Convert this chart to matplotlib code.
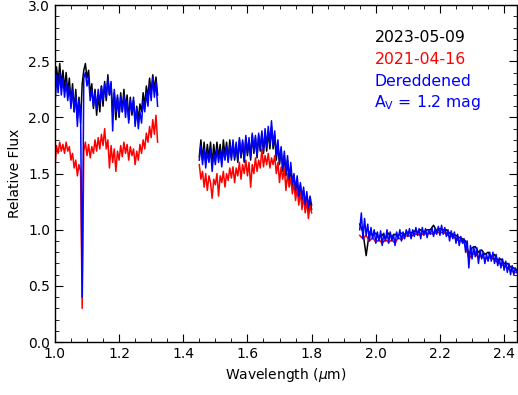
"""
Near-IR spectra of the source at two epochs, plus the dereddened 2021 spectrum.
"""

import numpy as np
import matplotlib
matplotlib.use("Agg")
import matplotlib.pyplot as plt
from matplotlib.ticker import MultipleLocator, FormatStrFormatter


# ── Data ─────────────────────────────────────────────────────────────────────

# start wavelength / sampling step of each band (um)
seg_start = [1.000, 1.450, 1.950]
step_fine = 0.005
step_coarse = 0.01

# 2023-05-09 (black)
black_j = [2.10, 2.45, 2.30, 2.48, 2.28, 2.42, 2.25, 2.40, 2.22, 2.35,
           2.12, 2.30, 2.05, 2.25, 2.00, 2.18, 1.95, 2.30, 2.42, 2.48,
           2.35, 2.42, 2.20, 2.30, 2.08, 2.25, 2.02, 2.20, 2.05, 2.28,
           2.10, 2.32, 2.15, 2.38, 2.20, 2.30, 2.05, 2.22, 1.98, 2.18,
           2.00, 2.22, 2.05, 2.25, 2.08, 2.20, 1.98, 2.18, 2.02, 2.15,
           1.95, 2.10, 1.98, 2.12, 2.05, 2.22, 2.10, 2.28, 2.18, 2.35,
           2.22, 2.38, 2.25, 2.36, 2.20]
black_h = [1.65, 1.80, 1.62, 1.78, 1.60, 1.76, 1.64, 1.78, 1.58, 1.76,
           1.62, 1.78, 1.64, 1.76, 1.60, 1.80, 1.66, 1.78, 1.62, 1.80,
           1.64, 1.78, 1.62, 1.76, 1.60, 1.80, 1.64, 1.78, 1.60, 1.82,
           1.66, 1.80, 1.62, 1.84, 1.68, 1.82, 1.64, 1.84, 1.70, 1.86,
           1.68, 1.86, 1.70, 1.88, 1.72, 1.92, 1.72, 1.84, 1.62, 1.76,
           1.58, 1.72, 1.52, 1.66, 1.48, 1.62, 1.42, 1.56, 1.38, 1.48,
           1.32, 1.45, 1.28, 1.40, 1.25, 1.35, 1.20, 1.30, 1.16, 1.26,
           1.18]
black_k = [1.05, 0.98, 0.77, 0.98, 0.95, 0.97, 0.93, 0.96, 0.92, 0.97,
           0.94, 0.96, 0.95, 0.97, 0.96, 0.98, 0.97, 0.99, 0.98, 1.00,
           0.98, 1.00, 1.00, 1.04, 0.99, 1.01, 1.00, 1.00, 0.97, 0.96,
           0.95, 0.93, 0.92, 0.90, 0.78, 0.84, 0.85, 0.80, 0.82, 0.78,
           0.80, 0.76, 0.78, 0.73, 0.74, 0.70, 0.70, 0.67, 0.66, 0.64]

# 2021-04-16 (red)
red_j = [1.55, 1.75, 1.68, 1.78, 1.70, 1.76, 1.68, 1.78, 1.70, 1.74,
         1.62, 1.68, 1.55, 1.62, 1.48, 1.58, 1.52, 0.30, 1.70, 1.78,
         1.66, 1.76, 1.64, 1.74, 1.68, 1.80, 1.70, 1.82, 1.72, 1.85,
         1.75, 1.90, 1.72, 1.80, 1.55, 1.75, 1.60, 1.72, 1.52, 1.70,
         1.62, 1.75, 1.65, 1.78, 1.68, 1.76, 1.62, 1.74, 1.66, 1.72,
         1.58, 1.70, 1.62, 1.76, 1.68, 1.80, 1.72, 1.86, 1.78, 1.92,
         1.82, 1.98, 1.85, 2.02, 1.78]
red_h = [1.58, 1.45, 1.52, 1.38, 1.50, 1.35, 1.48, 1.42, 1.28, 1.45,
         1.40, 1.50, 1.30, 1.48, 1.42, 1.52, 1.38, 1.50, 1.44, 1.55,
         1.46, 1.56, 1.42, 1.55, 1.48, 1.60, 1.45, 1.58, 1.50, 1.62,
         1.48, 1.60, 1.38, 1.58, 1.50, 1.64, 1.52, 1.62, 1.55, 1.72,
         1.56, 1.66, 1.58, 1.68, 1.55, 1.64, 1.58, 1.66, 1.50, 1.60,
         1.42, 1.56, 1.45, 1.55, 1.35, 1.50, 1.38, 1.46, 1.32, 1.42,
         1.26, 1.38, 1.22, 1.34, 1.18, 1.30, 1.15, 1.26, 1.10, 1.22,
         1.15]
red_k = [0.95, 0.92, 0.95, 0.90, 0.93, 0.89, 0.91, 0.88, 0.91, 0.89,
         0.91, 0.88, 0.93, 0.91, 0.94, 0.95, 0.94, 0.96, 0.96, 0.95,
         0.97, 0.96, 0.97, 0.96, 0.98, 0.97, 0.98, 0.96, 0.94, 0.94,
         0.92, 0.90, 0.90, 0.86, 0.74, 0.78, 0.79, 0.75, 0.77, 0.74,
         0.75, 0.75, 0.73, 0.71, 0.69, 0.68, 0.66, 0.64, 0.62, 0.62]

# dereddened 2021-04-16, A_V = 1.2 mag (blue)
blue_j = [2.10, 2.38, 2.22, 2.40, 2.20, 2.35, 2.18, 2.32, 2.15, 2.28,
          2.08, 2.25, 2.05, 2.20, 1.92, 2.15, 2.05, 0.40, 2.35, 2.40,
          2.28, 2.36, 2.15, 2.25, 2.10, 2.22, 2.08, 2.25, 2.12, 2.28,
          2.15, 2.30, 2.18, 2.35, 2.20, 2.32, 1.88, 2.25, 2.05, 2.20,
          2.02, 2.18, 2.05, 2.20, 2.00, 2.15, 1.95, 2.15, 2.05, 2.18,
          1.92, 2.08, 1.90, 2.05, 1.95, 2.15, 2.05, 2.22, 2.10, 2.30,
          2.15, 2.35, 2.18, 2.32, 2.10]
blue_h = [1.62, 1.75, 1.58, 1.72, 1.55, 1.70, 1.60, 1.72, 1.52, 1.68,
          1.58, 1.72, 1.60, 1.70, 1.56, 1.72, 1.62, 1.74, 1.60, 1.76,
          1.62, 1.80, 1.64, 1.78, 1.62, 1.82, 1.66, 1.80, 1.62, 1.84,
          1.68, 1.82, 1.65, 1.86, 1.70, 1.84, 1.66, 1.86, 1.72, 1.88,
          1.70, 1.90, 1.74, 1.92, 1.76, 1.97, 1.75, 1.88, 1.66, 1.80,
          1.60, 1.74, 1.55, 1.70, 1.50, 1.66, 1.45, 1.60, 1.42, 1.50,
          1.35, 1.48, 1.30, 1.42, 1.28, 1.38, 1.22, 1.34, 1.20, 1.30,
          1.22]
blue_k = [1.00, 1.15, 0.92, 1.10, 0.95, 1.05, 0.90, 1.02, 0.92, 1.00,
          0.88, 0.98, 0.90, 0.99, 0.86, 0.97, 0.90, 1.00, 0.88, 0.98,
          0.90, 0.96, 0.86, 0.98, 0.92, 1.00, 0.90, 0.98, 0.92, 1.00,
          0.94, 1.01, 0.92, 1.00, 0.94, 1.02, 0.95, 1.01, 0.92, 1.02,
          0.95, 1.01, 0.93, 1.00, 0.96, 1.02, 0.94, 1.01, 0.96, 1.03,
          0.95, 1.04, 0.96, 1.02, 0.94, 1.00, 0.90, 0.99, 0.92, 0.98,
          0.88, 0.96, 0.86, 0.94, 0.88, 0.92, 0.80, 0.90, 0.66, 0.86,
          0.74, 0.85, 0.76, 0.84, 0.70, 0.82, 0.74, 0.80, 0.70, 0.78,
          0.72, 0.80, 0.72, 0.80, 0.70, 0.78, 0.68, 0.75, 0.66, 0.74,
          0.64, 0.72, 0.62, 0.70, 0.60, 0.68, 0.60, 0.66, 0.62]

labels = ["2023-05-09", "2021-04-16", "Dereddened", r"A$_\mathregular{V}$ = 1.2 mag"]


# ── Helpers ──────────────────────────────────────────────────────────────────

def _grid(start, step, flux):
    return start + step * np.arange(len(flux))


series = [
    ("black", [(black_j, step_fine), (black_h, step_fine), (black_k, step_coarse)]),
    ("red",   [(red_j, step_fine),   (red_h, step_fine),   (red_k, step_coarse)]),
    ("blue",  [(blue_j, step_fine),  (blue_h, step_fine),  (blue_k, step_fine)]),
]


# ── Plot ─────────────────────────────────────────────────────────────────────

fig = plt.figure(figsize=(5.18, 3.95), dpi=100)
ax = fig.add_axes([0.106, 0.134, 0.892, 0.853])

for color, segs in series:
    for start, (flux, step) in zip(seg_start, segs):
        ax.plot(_grid(start, step, flux), flux, color=color, lw=1.1)

ax.set_xlim(1.0, 2.44)
ax.set_ylim(0.0, 3.0)
ax.xaxis.set_major_locator(MultipleLocator(0.2))
ax.xaxis.set_minor_locator(MultipleLocator(0.05))
ax.yaxis.set_major_locator(MultipleLocator(0.5))
ax.yaxis.set_minor_locator(MultipleLocator(0.1))
ax.xaxis.set_major_formatter(FormatStrFormatter("%.1f"))
ax.yaxis.set_major_formatter(FormatStrFormatter("%.1f"))
ax.tick_params(which="both", direction="in", top=True, right=True, labelsize=10)
ax.tick_params(which="major", length=6)
ax.tick_params(which="minor", length=3)
for s in ax.spines.values():
    s.set_linewidth(1.0)

ax.set_xlabel(r"Wavelength ($\mu$m)", fontsize=10)
ax.set_ylabel("Relative Flux", fontsize=10)

for txt, y, c in zip(labels, [2.716, 2.52, 2.32, 2.13], ["black", "red", "blue", "blue"]):
    ax.text(1.996, y, txt, color=c, fontsize=11.3, va="center", ha="left")

plt.savefig("out.png", dpi=100)
plt.close()
